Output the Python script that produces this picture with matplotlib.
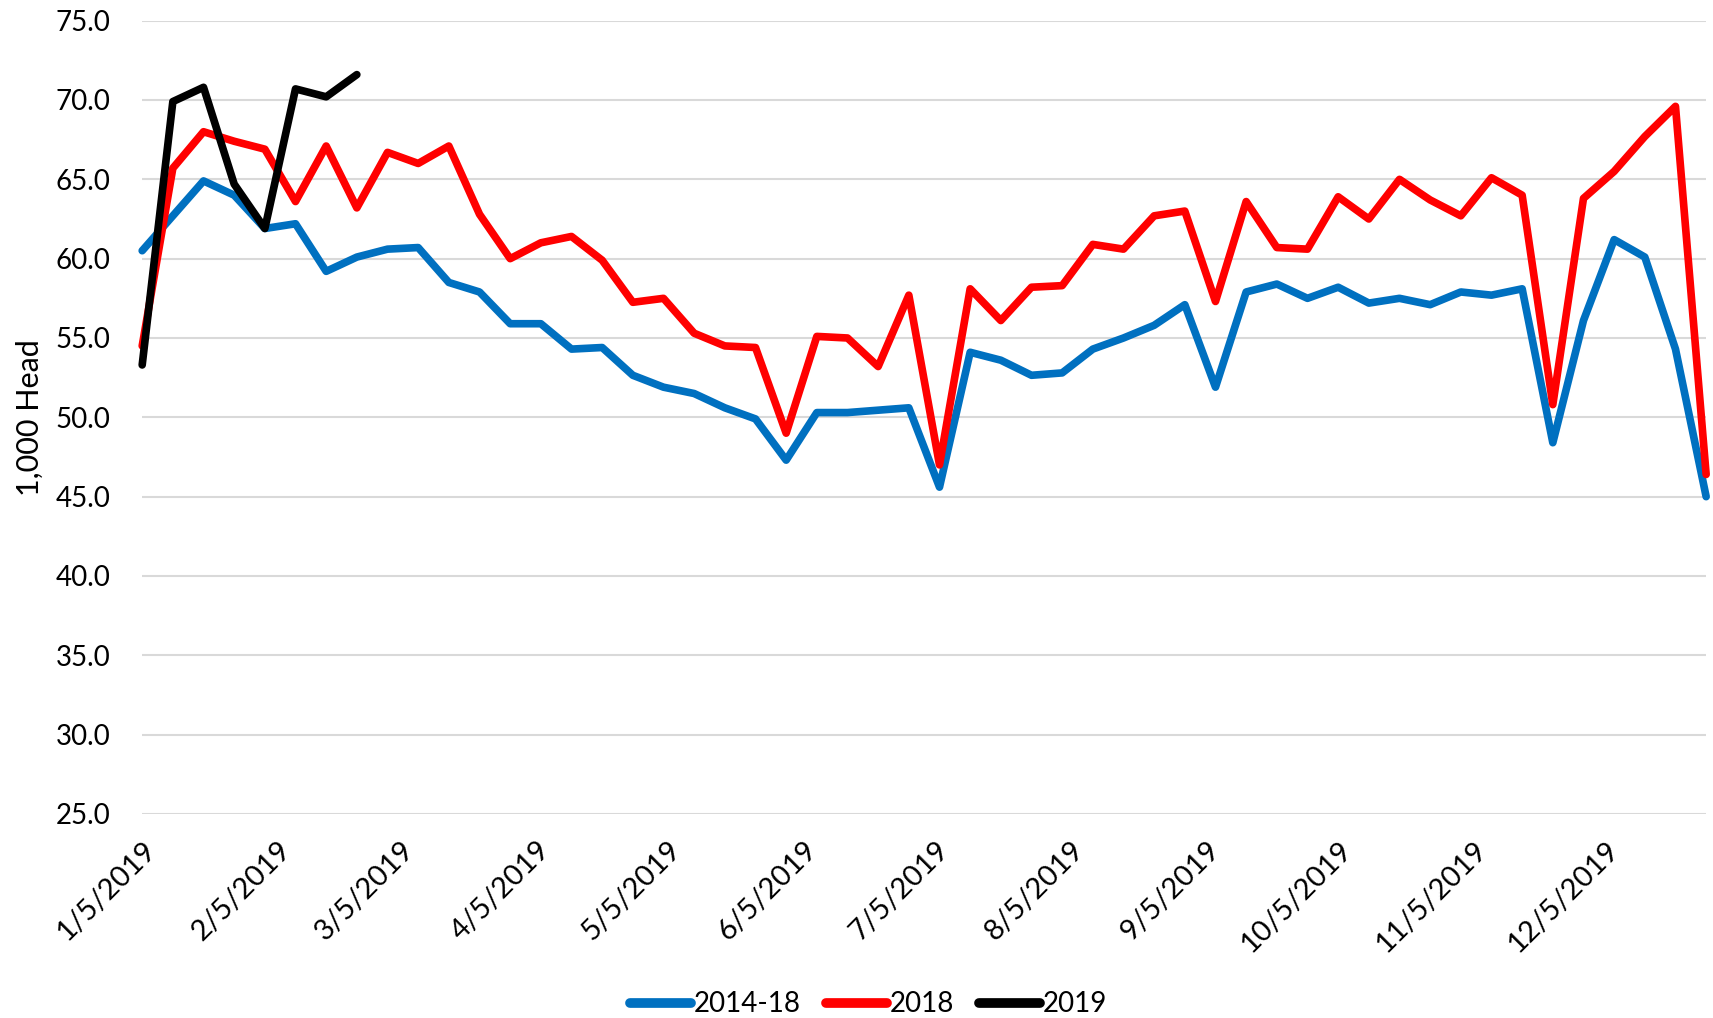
import matplotlib
matplotlib.use('Agg')
import matplotlib.pyplot as plt
import matplotlib.transforms as mtransforms
import pandas as pd

plt.rcParams['font.family'] = ['Lato', 'DejaVu Sans']

# Weekly dates
weeks = pd.date_range('2019-01-05', periods=52, freq='7D')

avg_2014_18 = [60.5, 62.7, 64.9, 64.0, 61.9, 62.2, 59.2, 60.1, 60.6, 60.7,
               58.5, 57.9, 55.9, 55.9, 54.3, 54.4, 52.65, 51.9, 51.5, 50.6,
               49.9, 47.3, 50.3, 50.3, 50.45, 50.6, 45.6, 54.1, 53.6, 52.65,
               52.8, 54.3, 55.0, 55.8, 57.1, 51.9, 57.9, 58.4, 57.5, 58.2,
               57.2, 57.5, 57.1, 57.9, 57.7, 58.1, 48.4, 56.1, 61.2, 60.1,
               54.3, 45.0]

y2018 = [54.5, 65.7, 68.0, 67.4, 66.9, 63.6, 67.1, 63.2, 66.7, 66.0,
         67.1, 62.8, 60.0, 61.0, 61.4, 59.9, 57.25, 57.5, 55.3, 54.5,
         54.4, 49.0, 55.1, 55.0, 53.2, 57.7, 47.0, 58.1, 56.1, 58.2,
         58.3, 60.9, 60.6, 62.7, 63.0, 57.3, 63.6, 60.7, 60.6, 63.9,
         62.5, 65.0, 63.7, 62.7, 65.1, 64.0, 50.8, 63.8, 65.5, 67.7,
         69.6, 46.4]

y2019 = [53.3, 69.9, 70.8, 64.7, 61.9, 70.7, 70.2, 71.6]

tick_dates = [pd.Timestamp(2019, m, 5) for m in range(1, 13)]
tick_labels = [f"{d.month}/{d.day}/{d.year}" for d in tick_dates]
y_ticks = [25, 30, 35, 40, 45, 50, 55, 60, 65, 70, 75]

fig = plt.figure(figsize=(17.13, 10.18), dpi=100)
ax = fig.add_axes([0.083, 0.2004, 0.913, 0.7793])

kw = dict(lw=5.5, solid_joinstyle='round', solid_capstyle='round', clip_on=False)
ax.plot(weeks, avg_2014_18, color='#0070C0', label='2014-18', **kw)
ax.plot(weeks, y2018, color='#FF0000', label='2018', **kw)
ax.plot(weeks[:len(y2019)], y2019, color='#000000', label='2019', **kw)

ax.set_xlim(weeks[0], weeks[-1])
ax.set_ylim(25, 75)
ax.set_yticks(y_ticks)
ax.set_yticklabels([f"{v:.1f}" for v in y_ticks], fontsize=20)
ax.set_xticks(tick_dates)
ax.set_xticklabels(tick_labels, fontsize=21, rotation=45, ha='right', va='top',
                   rotation_mode='anchor')
shift = mtransforms.ScaledTranslation(6 / 100, 0, fig.dpi_scale_trans)
for lbl in ax.get_xticklabels():
    lbl.set_transform(lbl.get_transform() + shift)
ax.tick_params(axis='both', length=0)
ax.tick_params(axis='x', pad=16)
ax.tick_params(axis='y', pad=23)
ax.grid(axis='y', color='#D9D9D9', lw=1.5)
ax.set_axisbelow(True)
for s in ax.spines.values():
    s.set_visible(False)

ax.set_ylabel('1,000 Head', fontsize=22, labelpad=8)

leg = fig.legend(loc='lower center', bbox_to_anchor=(0.507, -0.024), ncol=3, frameon=False,
                 fontsize=20, handlelength=2.2, handletextpad=0.1, columnspacing=0.9)
for h in leg.get_lines():
    h.set_linewidth(7)

fig.savefig('out.png', dpi=100)
